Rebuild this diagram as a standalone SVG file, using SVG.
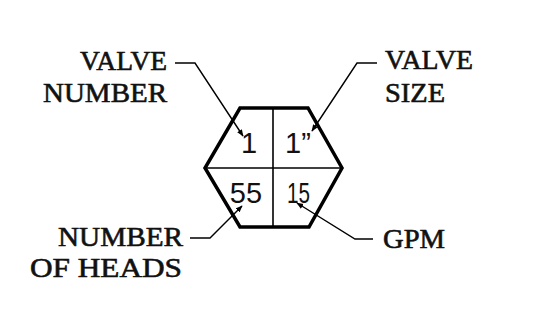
<svg xmlns="http://www.w3.org/2000/svg" width="553" height="326" viewBox="0 0 553 326">
<style>
.lbl{font-family:"Liberation Serif","Times New Roman",serif;font-size:27px;fill:#111;stroke:#111;stroke-width:0.6}
.num{font-family:"Liberation Sans",Arial,sans-serif;font-size:29px;fill:#111}
.hex{fill:none;stroke:#000;stroke-width:3.5;stroke-linejoin:miter}
.div{stroke:#000;stroke-width:1.6}
.lead{fill:none;stroke:#000;stroke-width:1.4}
</style>
<defs>
<marker id="ah" viewBox="0 0 10 10" refX="9" refY="5" markerWidth="7" markerHeight="7" orient="auto" markerUnits="userSpaceOnUse">
<path d="M0,1 L10,5 L0,9 Z" fill="#000"/>
</marker>
</defs>
<rect width="553" height="326" fill="#fff"/>
<g id="hexagon">
<polygon class="hex" points="240,108 308,108 342,168 309,227 240,227 205,168"/>
<line class="div" x1="273" y1="108" x2="273" y2="227"/>
<line class="div" x1="205" y1="168" x2="342" y2="168"/>
<text class="num" x="249" y="153" text-anchor="middle">1</text>
<text class="num" x="298" y="153" text-anchor="middle">1”</text>
<text class="num" x="246" y="203" text-anchor="middle">55</text>
<text class="num" x="287" y="203" textLength="23" lengthAdjust="spacingAndGlyphs">15</text>
</g>
<g id="label-valve-number">
<text class="lbl" x="80" y="70" textLength="87" lengthAdjust="spacingAndGlyphs">VALVE</text>
<text class="lbl" x="43" y="102" textLength="124" lengthAdjust="spacingAndGlyphs">NUMBER</text>
</g>
<g id="label-valve-size">
<text class="lbl" x="385" y="69" textLength="88" lengthAdjust="spacingAndGlyphs">VALVE</text>
<text class="lbl" x="385" y="102" textLength="60" lengthAdjust="spacingAndGlyphs">SIZE</text>
</g>
<g id="label-number-of-heads">
<text class="lbl" x="58" y="246" textLength="125" lengthAdjust="spacingAndGlyphs">NUMBER</text>
<text class="lbl" x="30" y="277" textLength="152" lengthAdjust="spacingAndGlyphs">OF HEADS</text>
</g>
<g id="label-gpm">
<text class="lbl" x="383" y="248" textLength="62" lengthAdjust="spacingAndGlyphs">GPM</text>
</g>
<g id="connectors">
<polyline class="lead" points="175,63 195,63 243,136" marker-end="url(#ah)"/>
<polyline class="lead" points="377,63 357,63 312,131" marker-end="url(#ah)"/>
<polyline class="lead" points="190,238 210,238 242,206" marker-end="url(#ah)"/>
<polyline class="lead" points="373,239 355,239 297,203" marker-end="url(#ah)"/>
</g>
</svg>
